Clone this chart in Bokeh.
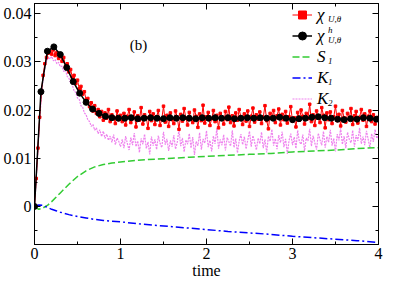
import numpy as np
from bokeh.plotting import figure
from bokeh.models import (Range1d, LinearAxis, SingleIntervalTicker, CustomJSTickFormatter,
                          CustomLabelingPolicy, Legend, LegendItem, Label)
from bokeh.embed import file_html
from bokeh.resources import INLINE

# ---------------- data ----------------
t_fine = np.round(np.arange(0, 4.0001, 0.02), 2)

chi = [
    0.0000, 0.0058, 0.0121, 0.0185, 0.0236, 0.0272, 0.0296, 0.0309, 0.0318, 0.0322, 0.0316, 0.0325, 0.0313, 0.0319, 0.0307, 0.0312,
    0.0301, 0.0309, 0.0290, 0.0296, 0.0279, 0.0284, 0.0268, 0.0272, 0.0255, 0.0262, 0.0244, 0.0249, 0.0233, 0.0238, 0.0221,
    0.0224, 0.0207, 0.0215, 0.0198, 0.0209, 0.0193, 0.0201, 0.0186, 0.0197, 0.0179, 0.0194, 0.0183, 0.0201, 0.0176, 0.0190, 0.0185, 0.0172, 0.0198, 0.0180, 0.0189,
    0.0176, 0.0193, 0.0169, 0.0187, 0.0201, 0.0174, 0.0182, 0.0196, 0.0165, 0.0188,
    0.0179, 0.0205, 0.0171, 0.0190, 0.0184, 0.0162, 0.0197, 0.0178, 0.0192, 0.0170,
    0.0186, 0.0199, 0.0168, 0.0181, 0.0208, 0.0175, 0.0189, 0.0166, 0.0194, 0.0180,
    0.0172, 0.0198, 0.0185, 0.0160, 0.0191, 0.0177, 0.0203, 0.0183, 0.0169, 0.0195,
    0.0181, 0.0174, 0.0200, 0.0187, 0.0164, 0.0192, 0.0178, 0.0210, 0.0173, 0.0186,
    0.0195, 0.0168, 0.0182, 0.0199, 0.0176, 0.0189, 0.0163, 0.0193, 0.0184, 0.0171,
    0.0197, 0.0180, 0.0206, 0.0174, 0.0188, 0.0167, 0.0194, 0.0179, 0.0201, 0.0185,
    0.0170, 0.0192, 0.0177, 0.0198, 0.0166, 0.0187, 0.0204, 0.0175, 0.0190, 0.0181,
    0.0196, 0.0172, 0.0185, 0.0209, 0.0178, 0.0161, 0.0193, 0.0183, 0.0199, 0.0174,
    0.0188, 0.0202, 0.0169, 0.0191, 0.0180, 0.0197, 0.0173, 0.0186, 0.0207, 0.0177,
    0.0184, 0.0165, 0.0195, 0.0179, 0.0200, 0.0187, 0.0171, 0.0193, 0.0182, 0.0212,
    0.0176, 0.0190, 0.0168, 0.0198, 0.0183, 0.0174, 0.0205, 0.0189, 0.0163, 0.0194,
    0.0180, 0.0196, 0.0172, 0.0186, 0.0208, 0.0178, 0.0191, 0.0167, 0.0199, 0.0184,
    0.0175, 0.0193, 0.0181, 0.0203, 0.0170, 0.0188, 0.0197, 0.0173, 0.0185, 0.0201,
    0.0179, 0.0192, 0.0166, 0.0187, 0.0198, 0.0176, 0.0190, 0.0171, 0.0183, 0.0185,
]

k2 = [
    0.0000, 0.0057, 0.0118, 0.0178, 0.0228, 0.0265, 0.0288, 0.0301, 0.0309, 0.0306, 0.0311, 0.0302, 0.0305, 0.0296, 0.0299, 0.0290,
    0.0291, 0.0280, 0.0283, 0.0270, 0.0266, 0.0257, 0.0252, 0.0240, 0.0236, 0.0225, 0.0222, 0.0209, 0.0206, 0.0194, 0.0190,
    0.0180, 0.0176, 0.0166, 0.0170, 0.0158, 0.0163, 0.0151, 0.0159, 0.0145, 0.0156, 0.0141, 0.0150, 0.0137, 0.0146, 0.0133, 0.0149, 0.0128, 0.0142, 0.0135, 0.0124,
    0.0139, 0.0121, 0.0146, 0.0130, 0.0117, 0.0143, 0.0127, 0.0152, 0.0124, 0.0136,
    0.0112, 0.0141, 0.0129, 0.0150, 0.0120, 0.0134, 0.0108, 0.0145, 0.0126, 0.0139,
    0.0118, 0.0147, 0.0131, 0.0122, 0.0155, 0.0128, 0.0140, 0.0115, 0.0137, 0.0124,
    0.0148, 0.0119, 0.0133, 0.0160, 0.0125, 0.0142, 0.0113, 0.0138, 0.0129, 0.0151,
    0.0121, 0.0144, 0.0107, 0.0135, 0.0126, 0.0153, 0.0118, 0.0140, 0.0131, 0.0157,
    0.0123, 0.0137, 0.0114, 0.0146, 0.0130, 0.0162, 0.0120, 0.0139, 0.0127, 0.0149,
    0.0116, 0.0143, 0.0134, 0.0125, 0.0158, 0.0122, 0.0141, 0.0111, 0.0136, 0.0150,
    0.0128, 0.0145, 0.0119, 0.0138, 0.0156, 0.0124, 0.0147, 0.0133, 0.0117, 0.0142,
    0.0130, 0.0154, 0.0121, 0.0139, 0.0112, 0.0146, 0.0135, 0.0160, 0.0126, 0.0141,
    0.0119, 0.0148, 0.0132, 0.0155, 0.0123, 0.0140, 0.0109, 0.0137, 0.0151, 0.0127,
    0.0144, 0.0120, 0.0158, 0.0134, 0.0129, 0.0149, 0.0115, 0.0142, 0.0136, 0.0161,
    0.0125, 0.0147, 0.0131, 0.0118, 0.0152, 0.0138, 0.0127, 0.0156, 0.0122, 0.0145,
    0.0133, 0.0159, 0.0126, 0.0141, 0.0114, 0.0150, 0.0137, 0.0162, 0.0129, 0.0146,
    0.0121, 0.0154, 0.0139, 0.0132, 0.0158, 0.0124, 0.0148, 0.0136, 0.0163, 0.0130,
    0.0145, 0.0127, 0.0157, 0.0139, 0.0122, 0.0151, 0.0134, 0.0160, 0.0141, 0.0148,
]

t_h = np.round(np.arange(0, 3.976, 0.075), 3)
chi_h = [
    0.0000, 0.0238, 0.0322, 0.0331, 0.0315, 0.0288, 0.0259, 0.0235, 0.0216, 0.0202,
    0.0193, 0.0187, 0.0184, 0.0183,
    0.0183, 0.0184, 0.0182, 0.0183, 0.0184, 0.0183, 0.0182, 0.0184, 0.0183, 0.0184,
    0.0183, 0.0182, 0.0184, 0.0183, 0.0184, 0.0183, 0.0184, 0.0182, 0.0183, 0.0184,
    0.0183, 0.0184, 0.0183, 0.0183, 0.0185, 0.0183, 0.0180, 0.0182, 0.0183, 0.0185,
    0.0186, 0.0184, 0.0183, 0.0181, 0.0180, 0.0182, 0.0181, 0.0184, 0.0183, 0.0181,
]

t_s = [0.0, 0.05, 0.1, 0.15, 0.2, 0.25, 0.3, 0.4, 0.5, 0.6, 0.7, 0.8, 0.9, 1.0,
       1.2, 1.4, 1.6, 1.8, 2.0, 2.25, 2.5, 2.75, 3.0, 3.25, 3.5, 3.75, 4.0]
s1 = [0.0000, -0.0006, -0.0003, 0.0002, 0.0010, 0.0019, 0.0028, 0.0046, 0.0062, 0.0074,
      0.0082, 0.0087, 0.0090, 0.0092, 0.0096, 0.0098, 0.0100, 0.0102, 0.0104, 0.0106,
      0.0108, 0.0110, 0.0113, 0.0115, 0.0117, 0.0120, 0.0122]
k1 = [0.0000, 0.0003, 0.0002, -0.0002, -0.0006, -0.0009, -0.0012, -0.0017, -0.0021, -0.0024,
      -0.0027, -0.0029, -0.0031, -0.0032, -0.0036, -0.0039, -0.0042, -0.0045, -0.0048, -0.0052,
      -0.0055, -0.0058, -0.0062, -0.0065, -0.0068, -0.0071, -0.0075]

legend_main = ["χ", "χ", "S", "K", "K"]
legend_sub = ["U,θ", "U,θ", "1", "1", "2"]
legend_sup = "h"

# ---------------- figure ----------------
FONT = "Liberation Serif"
W, H = 383, 281

p = figure(width=W, height=H, output_backend="svg", toolbar_location=None,
           x_range=Range1d(0.0, 4.0), y_range=Range1d(-0.0079, 0.0421),
           min_border_left=34, min_border_right=5, min_border_top=3, min_border_bottom=30)
p.xgrid.visible = False
p.ygrid.visible = False
p.outline_line_color = "black"
p.background_fill_color = "white"

xt = SingleIntervalTicker(interval=1, num_minor_ticks=2)
yt = SingleIntervalTicker(interval=0.01, num_minor_ticks=2)
yfmt = CustomJSTickFormatter(code="return Math.abs(tick) < 1e-9 ? '0' : tick.toFixed(2);")
no_labels = CustomLabelingPolicy(code="""
for (const i of Array.from(indices)) { indices.unset(i) }
return indices
""")

def style_axis(ax, show_labels):
    ax.axis_line_color = "black"
    ax.major_tick_line_color = "black"
    ax.minor_tick_line_color = "black"
    ax.major_tick_in = 6
    ax.major_tick_out = 0
    ax.minor_tick_in = 3
    ax.minor_tick_out = 0
    ax.major_label_text_font = FONT
    ax.major_label_text_color = "black"
    ax.major_label_text_font_size = "16px"
    ax.major_label_standoff = 3
    ax.axis_label_text_font = FONT
    ax.axis_label_text_font_style = "normal"
    ax.axis_label_text_font_size = "16px"
    ax.axis_label_text_color = "black"
    ax.axis_label_standoff = 0
    if not show_labels:
        ax.major_label_policy = no_labels
        ax.major_label_text_font_size = "0px"
        ax.major_label_standoff = 0

p.xaxis.ticker = xt
p.yaxis.ticker = yt
p.yaxis.formatter = yfmt
style_axis(p.xaxis[0], True)
style_axis(p.yaxis[0], True)
p.xaxis.axis_label = "time"

top = LinearAxis(ticker=xt)
right = LinearAxis(ticker=yt)
style_axis(top, False)
style_axis(right, False)
p.add_layout(top, "above")
p.add_layout(right, "right")

# ---------------- glyphs ----------------
r_k2 = p.line(t_fine, k2, line_color="violet", line_width=1.2, line_dash="2 1")
r_s1 = p.line(t_s, s1, line_color="#33cc33", line_width=1.5, line_dash="7 3")
r_k1 = p.line(t_s, k1, line_color="blue", line_width=1.5, line_dash="8 3 2 3")
r_chi_l = p.line(t_fine, chi, line_color="red", line_width=1)
r_chi_m = p.scatter(t_fine, chi, marker="square", size=2.5, color="red")
r_h_l = p.line(t_h, chi_h, line_color="black", line_width=1.5)
r_h_m = p.scatter(t_h, chi_h, marker="circle", size=6, color="black")
r_dummy = p.line([], [], line_alpha=0)

# ---------------- legend ----------------
GW, LS, LW, MARGIN, ROWH = 20, 5, 60, 1, 21
DX = 11          # horizontal offset of sub/superscripts from the main letter
SUB_DY = 4       # subscript shift downwards
SUP_DY = 6       # superscript shift upwards
SMALL = "9px"
common = dict(location="top_right", border_line_color=None, background_fill_alpha=0,
              padding=0, spacing=0, glyph_width=GW, glyph_height=ROWH, label_height=ROWH,
              label_text_font=FONT, label_text_color="black")
main_renderers = [[r_chi_l, r_chi_m], [r_h_l, r_h_m], [r_s1], [r_k1], [r_k2]]
leg = Legend(items=[LegendItem(label=lab, renderers=rs) for lab, rs in zip(legend_main, main_renderers)],
             margin=MARGIN, label_width=LW, label_standoff=LS,
             label_text_font_size="17px", label_text_font_style="italic", **common)
m_sub = MARGIN + SUB_DY
leg_sub = Legend(items=[LegendItem(label=lab, renderers=[r_dummy]) for lab in legend_sub],
                 margin=m_sub, label_width=LW + MARGIN - DX - m_sub, label_standoff=LS,
                 label_text_font_size=SMALL, label_text_font_style="italic", **common)
m_sup = MARGIN + ROWH - SUP_DY
leg_sup = Legend(items=[LegendItem(label=legend_sup, renderers=[r_dummy])],
                 margin=m_sup, label_width=LW + MARGIN - DX - m_sup, label_standoff=LS,
                 label_text_font_size=SMALL, label_text_font_style="italic", **common)
p.add_layout(leg)
p.add_layout(leg_sub)
p.add_layout(leg_sup)

p.add_layout(Label(x=1.21, y=0.0334, text="(b)", text_font=FONT, text_font_size="15px",
                   text_align="center", text_baseline="middle", text_color="black"))

open("out.html", "w").write(file_html(p, INLINE))
